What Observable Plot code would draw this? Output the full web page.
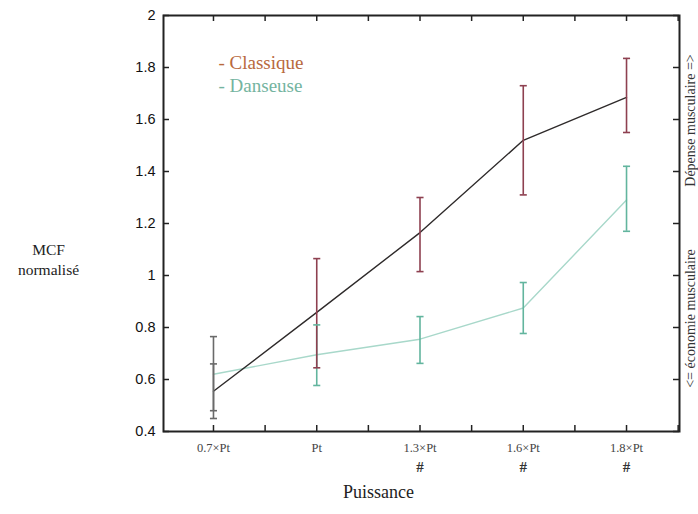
<!DOCTYPE html>
<html>
<head>
<meta charset="utf-8">
<script src="https://cdn.jsdelivr.net/npm/d3@7"></script>
<script src="https://cdn.jsdelivr.net/npm/@observablehq/plot@0.6"></script>
<style>
  html, body { margin: 0; padding: 0; background: #fff; }
</style>
</head>
<body>
<div id="chart"></div>
<script>
// ---- data ----
const categories = ["0.7×Pt", "Pt", "1.3×Pt", "1.6×Pt", "1.8×Pt"];
const significance = ["", "", "#", "#", "#"];
const yTicks = [0.4, 0.6, 0.8, 1, 1.2, 1.4, 1.6, 1.8, 2];

const classiqueMean = [0.555, 0.858, 1.165, 1.52, 1.685];
const classiqueLow  = [0.45, 0.645, 1.015, 1.31, 1.55];
const classiqueHigh = [0.66, 1.065, 1.30, 1.73, 1.835];

const danseuseMean = [0.62, 0.695, 0.755, 0.875, 1.29];
const danseuseLow  = [0.48, 0.577, 0.662, 0.777, 1.17];
const danseuseHigh = [0.765, 0.81, 0.842, 0.973, 1.42];

const seriesNames = ["Classique", "Danseuse"];

// ---- build tables ----
const idx = categories.map((_, i) => i);
const rows = [];
idx.forEach(i => {
  rows.push({series: "Danseuse", i, mean: danseuseMean[i], lo: danseuseLow[i], hi: danseuseHigh[i]});
});
idx.forEach(i => {
  rows.push({series: "Classique", i, mean: classiqueMean[i], lo: classiqueLow[i], hi: classiqueHigh[i]});
});
const halfTicks = d3.range(0, categories.length - 0.5 + 0.01, 0.5);

const lineColor = {Classique: "#2e2a2a", Danseuse: "#a8d8ca"};
const barColor = {Classique: "#8e4050", Danseuse: "#62b59e"};
const legendColor = {Classique: "#b8693e", Danseuse: "#74b4a0"};
// the first group's error bars appear grey in the reference
const barStroke = d => d.i === 0 ? "#6a6a6a" : barColor[d.series];

const W = 698, H = 514;
const mL = 163, mR = 19, mT = 15, mB = 83;
const pw = W - mL - mR, ph = H - mT - mB;

const capSymbol = {
  draw(context, size) {
    const r = Math.sqrt(size) / 2;
    context.moveTo(-r, 0);
    context.lineTo(r, 0);
  }
};

const serif = "'Liberation Serif', 'DejaVu Serif', serif";

const legendMark = (name, k) => Plot.text([name], {frameAnchor: "top-left", text: d => "- " + d,
  dx: 55, dy: 40 + 23 * k, fill: legendColor[name], fontSize: 19, textAnchor: "start"});

const chart = Plot.plot({
  width: W,
  height: H,
  marginLeft: mL,
  marginRight: mR,
  marginTop: mT,
  marginBottom: mB,
  style: {background: "#fff", fontFamily: serif, color: "#222"},
  x: {domain: [-0.484, 4.513], axis: null},
  y: {domain: [0.4, 2], axis: null},
  marks: [
    // y tick labels
    Plot.axisY({ticks: yTicks, tickSize: 0, tickPadding: 8, tickFormat: d3.format("~g"),
      fontSize: 14.5, fontFamily: "'Liberation Sans', Arial, sans-serif", fill: "#111", label: null}),
    // x tick labels
    Plot.axisX({ticks: idx, tickSize: 0, tickPadding: 12, tickFormat: i => categories[i],
      fontSize: 12.5, fill: "#444", label: null}),
    // inward ticks
    Plot.tickY(yTicks, {y: d => d, insetRight: pw - 6, stroke: "#222", strokeWidth: 1.5}),
    Plot.tickY(yTicks, {y: d => d, insetLeft: pw - 6, stroke: "#222", strokeWidth: 1.5}),
    Plot.tickX(halfTicks, {x: d => d, insetTop: ph - 6, stroke: "#222", strokeWidth: 1.5}),
    Plot.tickX(halfTicks, {x: d => d, insetBottom: ph - 6, stroke: "#222", strokeWidth: 1.5}),
    Plot.frame({stroke: "#222", strokeWidth: 2}),
    // significance marks
    Plot.text(idx, {x: d => d, text: d => significance[d], frameAnchor: "bottom", dy: 40,
      fontSize: 15, fontWeight: "bold", fill: "#333"}),
    // lines
    Plot.line(rows, {x: "i", y: "mean", z: "series", stroke: d => lineColor[d.series], strokeWidth: 1.4}),
    // error bars
    Plot.ruleX(rows, {x: "i", y1: "lo", y2: "hi", stroke: barStroke, strokeWidth: 1.6}),
    Plot.dot(rows, {x: "i", y: "lo", symbol: capSymbol, r: 4, stroke: barStroke, strokeWidth: 1.6, fill: "none"}),
    Plot.dot(rows, {x: "i", y: "hi", symbol: capSymbol, r: 4, stroke: barStroke, strokeWidth: 1.6, fill: "none"}),
    // legend
    ...seriesNames.map(legendMark),
    // axis titles
    Plot.text(["MCF\nnormalisé"], {frameAnchor: "left", text: d => d, dx: -115, dy: 35,
      fontSize: 15.5, lineHeight: 1.3, fill: "#222", textAnchor: "middle"}),
    Plot.text(["Puissance"], {frameAnchor: "bottom", text: d => d, dx: -43, dy: 66,
      fontSize: 18, fill: "#222", textAnchor: "middle"}),
    Plot.text(["Dépense musculaire =>"], {frameAnchor: "right", text: d => d, dx: 11, dy: -103,
      rotate: -90, fontSize: 14, fill: "#333", textAnchor: "middle"}),
    Plot.text(["<= économie musculaire"], {frameAnchor: "right", text: d => d, dx: 11, dy: 95,
      rotate: -90, fontSize: 14, fill: "#333", textAnchor: "middle"})
  ]
});

document.getElementById("chart").appendChild(chart);
</script>
</body>
</html>
